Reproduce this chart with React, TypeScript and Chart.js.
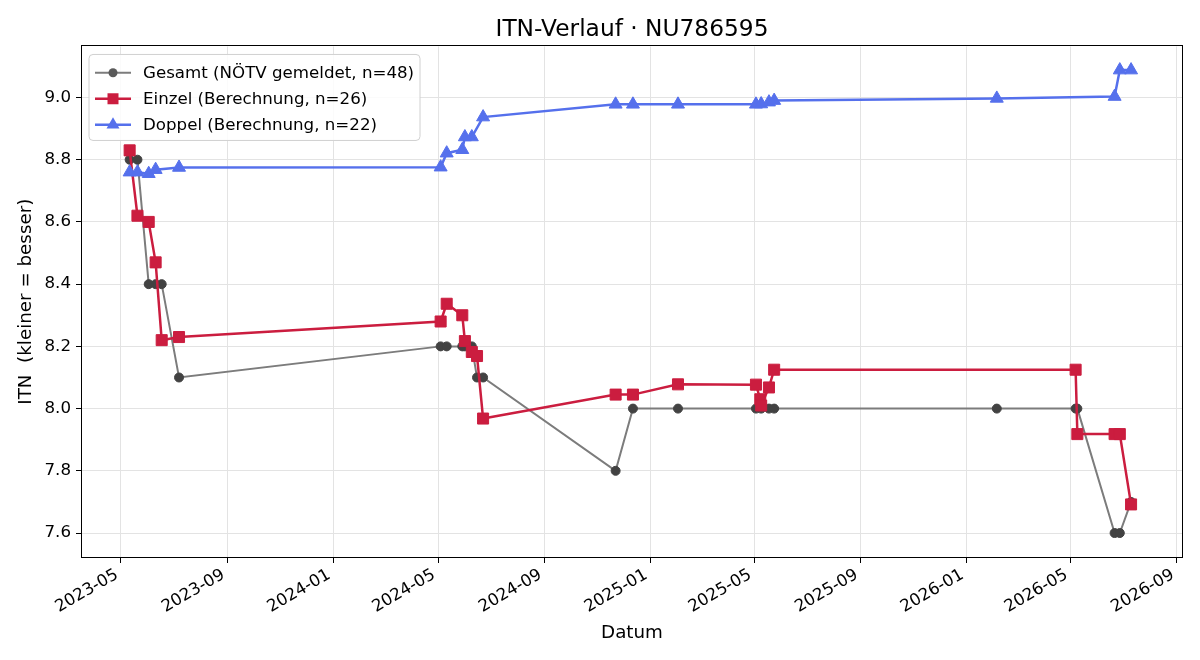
import React, { useEffect, useRef } from 'react';
import { Chart, registerables } from 'chart.js';

Chart.register(...registerables);

// ---------------- data ----------------
const GESAMT_DATES = [
  '2023-05-11', '2023-05-20', '2023-06-02', '2023-06-10', '2023-06-17', '2023-07-07',
  '2024-05-04', '2024-05-11', '2024-05-29', '2024-06-01', '2024-06-09', '2024-06-15', '2024-06-22',
  '2024-11-22', '2024-12-12', '2025-02-02', '2025-05-03', '2025-05-09', '2025-05-18', '2025-05-24',
  '2026-02-05', '2026-05-07', '2026-05-09', '2026-06-21', '2026-06-27', '2026-07-10',
];
const GESAMT_VALUES = [
  8.8, 8.8, 8.4, 8.4, 8.4, 8.1,
  8.2, 8.2, 8.2, 8.2, 8.2, 8.1, 8.1,
  7.8, 8.0, 8.0, 8.0, 8.0, 8.0, 8.0,
  8.0, 8.0, 8.0, 7.6, 7.6, 7.7,
];

const EINZEL_DATES = [
  '2023-05-11', '2023-05-20', '2023-06-02', '2023-06-10', '2023-06-17', '2023-07-07',
  '2024-05-04', '2024-05-11', '2024-05-29', '2024-06-01', '2024-06-09', '2024-06-15', '2024-06-22',
  '2024-11-22', '2024-12-12', '2025-02-02', '2025-05-03', '2025-05-08', '2025-05-09', '2025-05-18', '2025-05-24',
  '2026-05-07', '2026-05-09', '2026-06-21', '2026-06-27', '2026-07-10',
];
const EINZEL_VALUES = [
  8.83, 8.62, 8.60, 8.47, 8.22, 8.23,
  8.28, 8.337, 8.30, 8.217, 8.182, 8.169, 7.968,
  8.045, 8.045, 8.078, 8.077, 8.03, 8.01, 8.068, 8.125,
  8.125, 7.918, 7.918, 7.918, 7.692,
];

const DOPPEL_DATES = [
  '2023-05-11', '2023-05-20', '2023-06-02', '2023-06-10', '2023-07-07',
  '2024-05-04', '2024-05-11', '2024-05-29', '2024-06-01', '2024-06-09', '2024-06-22',
  '2024-11-22', '2024-12-12', '2025-02-02', '2025-05-03', '2025-05-09', '2025-05-18', '2025-05-24',
  '2026-02-05', '2026-06-21', '2026-06-27', '2026-07-10',
];
const DOPPEL_VALUES = [
  8.76, 8.76, 8.755, 8.768, 8.775,
  8.776, 8.821, 8.832, 8.873, 8.873, 8.937,
  8.978, 8.978, 8.978, 8.978, 8.979, 8.985, 8.99,
  8.997, 9.003, 9.088, 9.088,
];

const X_TICKS = [
  '2023-05-01', '2023-09-01', '2024-01-01', '2024-05-01', '2024-09-01', '2025-01-01',
  '2025-05-01', '2025-09-01', '2026-01-01', '2026-05-01', '2026-09-01',
];
const Y_TICKS = [7.6, 7.8, 8.0, 8.2, 8.4, 8.6, 8.8, 9.0];

const SERIES_LABELS = [
  'Gesamt (NÖTV gemeldet, n=48)',
  'Einzel (Berechnung, n=26)',
  'Doppel (Berechnung, n=22)',
];
const TITLE = 'ITN-Verlauf · NU786595';
const X_TITLE = 'Datum';
const Y_TITLE = 'ITN  (kleiner = besser)';

// ---------------- helpers ----------------
const DAY = 86400000;
const toTs = (s: string) => {
  const [y, m, d] = s.split('-').map(Number);
  return Date.UTC(y, m - 1, d);
};
const pts = (dates: string[], vals: number[]) => dates.map((d, i) => ({ x: toTs(d), y: vals[i] }));

const FONT = 'DejaVu Sans';
const C_GRAY_LINE = '#7c7c7c';
const C_GRAY_PT = '#424242';
const C_RED = '#cb1d3f';
const C_BLUE = '#5570ec';
const F_TITLE = 23.3;
const F_LABEL = 18.3;
const F_TICK = 16.67;

const frameAndLegend = {
  id: 'frameAndLegend',
  afterDatasetsDraw(chart: any) {
    const ctx: CanvasRenderingContext2D = chart.ctx;
    const { left, top, right, bottom } = chart.chartArea;
    ctx.save();
    // frame
    ctx.strokeStyle = '#000';
    ctx.lineWidth = 1;
    ctx.strokeRect(Math.round(left) - 0.5, Math.round(top) - 0.5, Math.round(right - left) + 1, Math.round(bottom - top) + 1);

    // legend
    const x0 = left + 7, y0 = top + 8, w = 331, h = 86, r = 4;
    ctx.beginPath();
    ctx.moveTo(x0 + r, y0);
    ctx.lineTo(x0 + w - r, y0);
    ctx.quadraticCurveTo(x0 + w, y0, x0 + w, y0 + r);
    ctx.lineTo(x0 + w, y0 + h - r);
    ctx.quadraticCurveTo(x0 + w, y0 + h, x0 + w - r, y0 + h);
    ctx.lineTo(x0 + r, y0 + h);
    ctx.quadraticCurveTo(x0, y0 + h, x0, y0 + h - r);
    ctx.lineTo(x0, y0 + r);
    ctx.quadraticCurveTo(x0, y0, x0 + r, y0);
    ctx.closePath();
    ctx.fillStyle = 'rgba(255,255,255,0.85)';
    ctx.fill();
    ctx.strokeStyle = '#d0d0d0';
    ctx.stroke();

    const rows = [
      { color: C_GRAY_LINE, pt: '#5a5a5a', lw: 2, shape: 'circle' },
      { color: C_RED, pt: C_RED, lw: 2.5, shape: 'rect' },
      { color: C_BLUE, pt: C_BLUE, lw: 2.5, shape: 'triangle' },
    ];
    rows.forEach((row, i) => {
      const y = y0 + 18.3 + i * 26;
      const hx0 = x0 + 6, hx1 = x0 + 42, mx = (hx0 + hx1) / 2;
      ctx.strokeStyle = row.color;
      ctx.lineWidth = row.lw;
      ctx.beginPath();
      ctx.moveTo(hx0, y);
      ctx.lineTo(hx1, y);
      ctx.stroke();
      ctx.fillStyle = row.pt;
      ctx.beginPath();
      if (row.shape === 'circle') {
        ctx.arc(mx, y, 4.5, 0, Math.PI * 2);
      } else if (row.shape === 'rect') {
        ctx.rect(mx - 5.5, y - 5.5, 11, 11);
      } else {
        const rr = 7.5;
        ctx.moveTo(mx, y - rr);
        ctx.lineTo(mx + rr * Math.sin(2 * Math.PI / 3), y - rr * Math.cos(2 * Math.PI / 3));
        ctx.lineTo(mx + rr * Math.sin(4 * Math.PI / 3), y - rr * Math.cos(4 * Math.PI / 3));
        ctx.closePath();
      }
      ctx.fill();
      ctx.fillStyle = '#000';
      ctx.font = `${F_TICK}px "${FONT}"`;
      ctx.textBaseline = 'middle';
      ctx.textAlign = 'left';
      ctx.fillText(SERIES_LABELS[i], x0 + 54, y + 0.5);
    });
    ctx.restore();
  },
};

export default function App() {
  const ref = useRef<HTMLCanvasElement>(null);
  useEffect(() => {
    document.body.style.margin = '0';
    Chart.defaults.font.family = FONT;
    Chart.defaults.color = '#000';
    const chart = new Chart(ref.current as HTMLCanvasElement, {
      type: 'line',
      data: {
        datasets: [
          {
            label: SERIES_LABELS[0],
            data: pts(GESAMT_DATES, GESAMT_VALUES),
            borderColor: C_GRAY_LINE,
            borderWidth: 2,
            pointStyle: 'circle',
            pointRadius: 4.5,
            pointBackgroundColor: C_GRAY_PT,
            pointBorderColor: C_GRAY_PT,
            pointBorderWidth: 1,
            tension: 0,
            order: 3,
          },
          {
            label: SERIES_LABELS[1],
            data: pts(EINZEL_DATES, EINZEL_VALUES),
            borderColor: C_RED,
            borderWidth: 2.5,
            pointStyle: 'rect',
            pointRadius: 7.8,
            pointBackgroundColor: C_RED,
            pointBorderColor: C_RED,
            pointBorderWidth: 1,
            tension: 0,
            order: 2,
          },
          {
            label: SERIES_LABELS[2],
            data: pts(DOPPEL_DATES, DOPPEL_VALUES),
            borderColor: C_BLUE,
            borderWidth: 2.5,
            pointStyle: 'triangle',
            pointRadius: 7.5,
            pointBackgroundColor: C_BLUE,
            pointBorderColor: C_BLUE,
            pointBorderWidth: 1,
            tension: 0,
            order: 1,
          },
        ],
      },
      options: {
        animation: false,
        responsive: false,
        devicePixelRatio: 1,
        layout: { padding: { left: 0, right: 18, top: 0, bottom: 0 } },
        plugins: {
          legend: { display: false },
          tooltip: { enabled: false },
          title: {
            display: true,
            text: TITLE,
            fullSize: false,
            color: '#000',
            font: { family: FONT, size: F_TITLE, weight: 'normal' },
            padding: { top: 15.5, bottom: 3 },
          },
        },
        scales: {
          x: {
            type: 'linear',
            min: toTs('2023-05-01') - 45 * DAY,
            max: toTs('2026-09-01') + 5.8 * DAY,
            afterBuildTicks: (scale: any) => {
              scale.ticks = X_TICKS.map((s) => ({ value: toTs(s) }));
            },
            afterFit: (scale: any) => {
              scale.height = 103;
            },
            ticks: {
              autoSkip: false,
              minRotation: 30,
              maxRotation: 30,
              padding: 2,
              labelOffset: -4,
              color: '#000',
              font: { family: FONT, size: F_TICK },
              callback: (_v: any, i: number) => X_TICKS[i].slice(0, 7),
            },
            grid: {
              color: '#e3e3e3',
              lineWidth: 1,
              drawTicks: true,
              tickLength: 6,
              tickColor: '#000',
              tickWidth: 1,
            },
            border: { display: false },
            title: {
              display: true,
              text: X_TITLE,
              color: '#000',
              font: { family: FONT, size: F_LABEL },
              padding: { top: 0, bottom: 16 },
            },
          },
          y: {
            type: 'linear',
            min: 7.523,
            max: 9.164,
            afterBuildTicks: (scale: any) => {
              scale.ticks = Y_TICKS.map((v) => ({ value: v }));
            },
            afterFit: (scale: any) => {
              scale.width = 82;
            },
            ticks: {
              padding: 5,
              color: '#000',
              font: { family: FONT, size: F_TICK },
              callback: (v: any) => Number(v).toFixed(1),
            },
            grid: {
              color: '#e3e3e3',
              lineWidth: 1,
              drawTicks: true,
              tickLength: 6,
              tickColor: '#000',
              tickWidth: 1,
            },
            border: { display: false },
            title: {
              display: true,
              text: Y_TITLE,
              color: '#000',
              font: { family: FONT, size: F_LABEL },
              padding: { top: 15, bottom: 0 },
            },
          },
        },
      },
      plugins: [frameAndLegend],
    } as any);
    return () => chart.destroy();
  }, []);
  return (
    <div style={{ width: 1200, height: 660, position: 'relative' }}>
      <canvas ref={ref} width={1200} height={660} style={{ display: 'block', width: 1200, height: 660 }} />
    </div>
  );
}
